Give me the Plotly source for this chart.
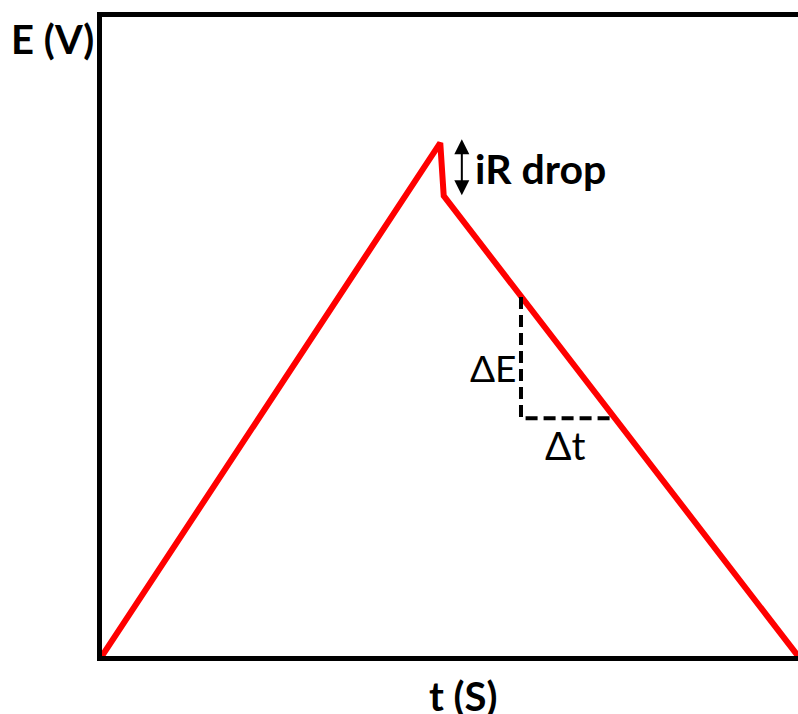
"""
Galvanostatic charge/discharge sketch: triangular E-t profile with an iR drop.
"""
import plotly.graph_objects as go

# main red trace: charge up, iR drop, discharge down
t_values = [0, 4.86, 4.91, 10]
e_values = [0, 8.03, 7.20, 0]

# dashed slope triangle (dE / dt)
slope_t = [6.02, 6.02, 7.37]
slope_e = [5.62, 3.72, 3.72]

# iR drop double arrow
ir_arrow_t = 5.17
ir_arrow_e = [8.11, 7.21]

x_label = "t (S)"
y_label = "E (V)"

FONT = "Lato, 'Open Sans', sans-serif"


def build_figure() -> go.Figure:
    fig = go.Figure()

    fig.add_trace(go.Scatter(
        x=t_values, y=e_values, mode="lines",
        line=dict(color="#ff0000", width=6),
        hoverinfo="skip"
    ))
    fig.add_trace(go.Scatter(
        x=slope_t, y=slope_e, mode="lines",
        line=dict(color="black", width=4, dash="12px,6px"),
        hoverinfo="skip"
    ))

    # double-headed arrow for the iR drop
    fig.add_annotation(
        x=ir_arrow_t, y=ir_arrow_e[1], ax=ir_arrow_t, ay=ir_arrow_e[0],
        xref="x", yref="y", axref="x", ayref="y",
        text="", showarrow=True, arrowhead=2, arrowside="end+start",
        arrowsize=1.5, arrowwidth=2, arrowcolor="black"
    )
    fig.add_annotation(
        x=ir_arrow_t, y=(ir_arrow_e[0] + ir_arrow_e[1]) / 2, xref="x", yref="y",
        text="<b>iR drop</b>", showarrow=False, xanchor="left", xshift=11, yshift=-2,
        font=dict(family=FONT, size=41, color="black")
    )
    fig.add_annotation(
        x=slope_t[0], y=(slope_e[0] + slope_e[1]) / 2, xref="x", yref="y",
        text="ΔE", showarrow=False, xanchor="right", xshift=-3, yshift=-10,
        font=dict(family=FONT, size=37, color="black")
    )
    fig.add_annotation(
        x=(slope_t[1] + slope_t[2]) / 2, y=slope_e[2], xref="x", yref="y",
        text="Δt", showarrow=False, yanchor="top", xshift=-3, yshift=-2,
        font=dict(family=FONT, size=39, color="black")
    )

    # axis titles
    fig.add_annotation(
        x=0, y=1, xref="paper", yref="paper", text="<b>" + y_label + "</b>",
        showarrow=False, xanchor="right", yanchor="top", xshift=-6, yshift=4,
        font=dict(family=FONT, size=40, color="black")
    )
    fig.add_annotation(
        x=0.5, y=0, xref="paper", yref="paper", text="<b>" + x_label + "</b>",
        showarrow=False, xanchor="center", yanchor="top", xshift=13, yshift=-14,
        font=dict(family=FONT, size=40, color="black")
    )

    fig.update_layout(
        width=798, height=714,
        margin=dict(l=102, r=0, t=17, b=58),
        plot_bgcolor="white", paper_bgcolor="white",
        showlegend=False,
        xaxis=dict(range=[0, 10], showgrid=False, zeroline=False, showticklabels=False,
                   ticks="", showline=True, linewidth=5, linecolor="black", mirror=True),
        yaxis=dict(range=[0, 10], showgrid=False, zeroline=False, showticklabels=False,
                   ticks="", showline=True, linewidth=5, linecolor="black", mirror=False),
    )
    return fig


def main() -> None:
    fig = build_figure()
    # drop the default 8px page margin so the figure fills the window exactly
    fig.write_html("out.html", config={"displayModeBar": False},
                   post_script="document.body.style.margin = '0';")


if __name__ == "__main__":
    main()
